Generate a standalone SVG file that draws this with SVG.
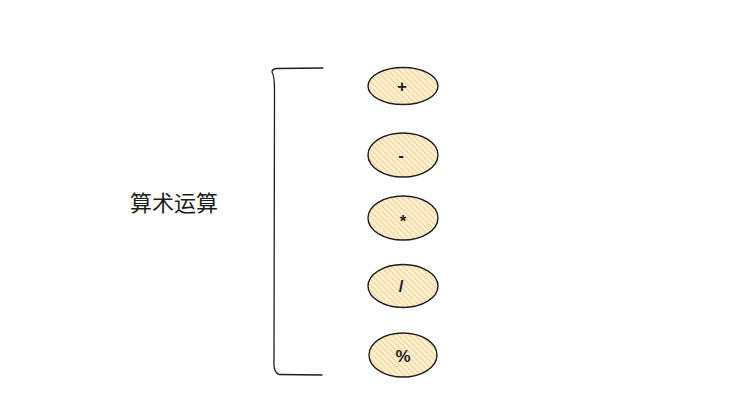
<svg xmlns="http://www.w3.org/2000/svg" width="753" height="409" viewBox="0 0 753 409">
<style>
.op{stroke:#1e1e1e;stroke-width:1.4;fill:url(#hatch)}
.sym{font-family:"Liberation Sans","DejaVu Sans",sans-serif;font-size:17px;font-weight:bold;fill:#1e1e1e;text-anchor:middle;dominant-baseline:central}
.lbl{font-family:"Noto Sans CJK SC","Noto Sans",sans-serif;font-size:22px;fill:#1e1e1e;dominant-baseline:central}
.br{fill:none;stroke:#1e1e1e;stroke-width:1.3;stroke-linecap:round}
</style>
<defs>
<pattern id="hatch" patternUnits="userSpaceOnUse" width="4" height="4" patternTransform="rotate(-45)">
<rect width="4" height="4" fill="#fcefd2"/>
<line x1="0" y1="0" x2="0" y2="4" stroke="#eecb7f" stroke-width="1.6"/>
</pattern>
</defs>
<rect width="753" height="409" fill="#ffffff"/>
<g id="label"><text class="lbl" x="130" y="201">算术运算</text></g>
<g id="connectors">
<path class="br" d="M323 68 L277 68.5 Q272 69 272 72 Q274.5 76 274.5 90 L274 360 Q273 372 279 374.5 L322 375"/>
</g>
<g id="op-plus"><ellipse class="op" cx="403" cy="86" rx="35" ry="18.5"/><text class="sym" x="402" y="86">+</text></g>
<g id="op-minus"><ellipse class="op" cx="403" cy="155" rx="35" ry="22"/><text class="sym" x="401" y="155">-</text></g>
<g id="op-mul"><ellipse class="op" cx="403" cy="218" rx="35" ry="22"/><text class="sym" x="403" y="221">*</text></g>
<g id="op-div"><ellipse class="op" cx="403" cy="286" rx="35" ry="21.5"/><text class="sym" x="401" y="286">/</text></g>
<g id="op-mod"><ellipse class="op" cx="403" cy="355" rx="34" ry="22"/><text class="sym" x="403" y="356">%</text></g>
</svg>
